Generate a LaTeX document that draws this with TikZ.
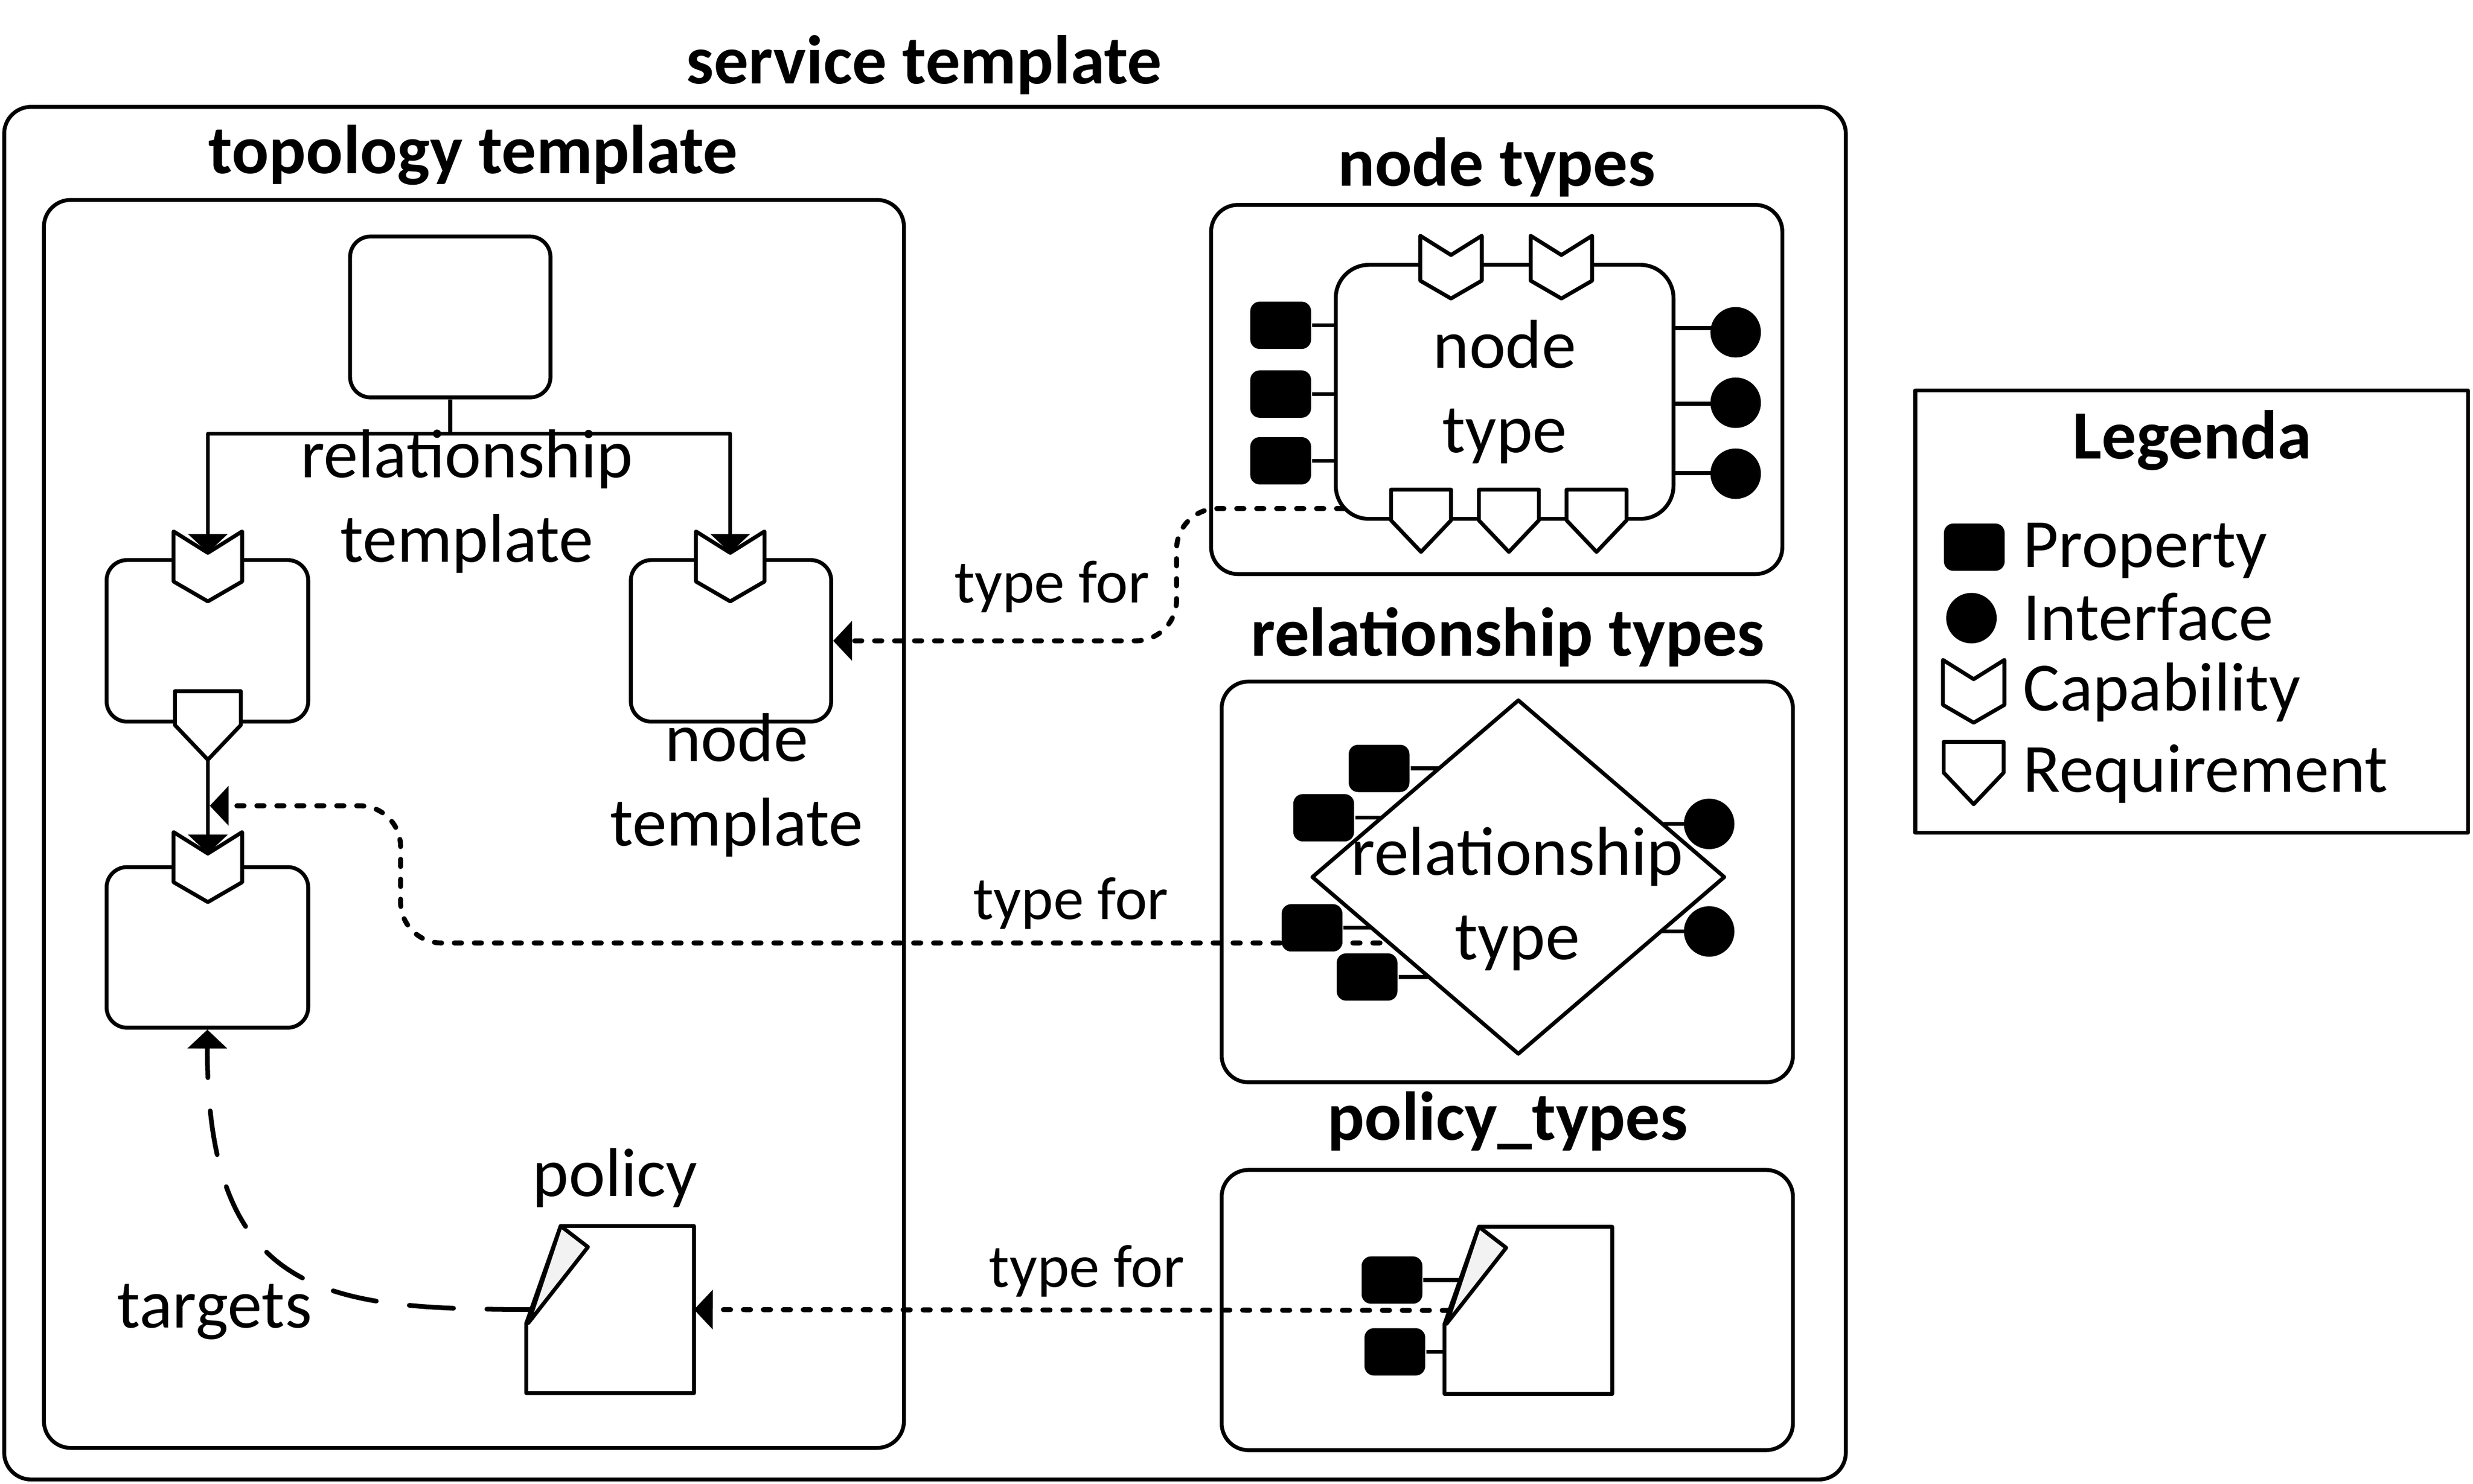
\documentclass[tikz,border=0pt]{standalone}
\usepackage{fontspec}
\setmainfont{Carlito}
\usetikzlibrary{shapes.geometric,arrows.meta,backgrounds}
\tikzset{
  >={Triangle[length=3.4pt,width=7pt]},
  lined/.style={line width=.7pt,line join=round},
  roundbox/.style={draw,lined,rounded corners=.13cm,inner sep=0pt},
  bigbox/.style={draw,lined,rounded corners=.17cm,inner sep=0pt},
  propbox/.style={fill=black,rounded corners=1.7pt,minimum width=.385cm,minimum height=.3cm,inner sep=0pt},
  ifacedot/.style={circle,fill=black,minimum size=.32cm,inner sep=0pt},
  txt/.style={font=\fontsize{12.45}{15.2}\selectfont,inner sep=0pt,align=center},
  typefor/.style={font=\fontsize{11}{13}\selectfont,inner sep=0pt},
  title/.style={font=\fontsize{12.45}{15}\selectfont\bfseries,inner sep=0pt,anchor=base},
  conn/.style={lined,->},
  typeline/.style={line width=.9pt,line cap=round,dash pattern=on 1.3pt off 2.3pt,rounded corners=.26cm,->},
  targetline/.style={line width=.85pt,line cap=round,dash pattern=on 8pt off 6pt,->},
  capability/.pic={
    \draw[lined,fill=white] (-19.5,-20) -- (0,-7.8) -- (19.5,-20) -- (19.5,8.5) -- (0,19.8) -- (-19.5,8.5) -- cycle;
    \coordinate (-notch) at (0,-7.8);
  },
  requirement/.pic={
    \draw[lined,fill=white] (-19,-19.5) -- (19,-19.5) -- (19,0) -- (0,20) -- (-19,0) -- cycle;
    \coordinate (-tip) at (0,20);
  },
  policyshape/.pic={
    \draw[lined,fill=white] (-53.3,8.7) -- (-31.5,-53) -- (53,-53) -- (53,53) -- (-53.3,53) -- cycle;
    \draw[lined,fill=black!5] (-31.5,-53) -- (-14.2,-39.7) -- (-52,8.5) -- cycle;
    \coordinate (-east) at (53,0);
    \coordinate (-fold) at (-50.2,0);
    \coordinate (-mid) at (0,0);
  }
}
\begin{document}
\begin{tikzpicture}[x=.01cm,y=-.01cm]
\useasboundingbox (0,0) rectangle (1568,941);
% outer frames
\node[title] (servicetitle) at (586,53) {service template};
\node[bigbox,minimum width=11.67cm,minimum height=8.7cm] (servicebox) at (586.5,503) {};
\node[title] (topologytitle) at (300,110) {topology template};
\node[bigbox,minimum width=5.45cm,minimum height=7.91cm] (topologybox) at (300.5,522.5) {};
\node[title] (nodetypestitle) at (949,118) {node types};
\node[bigbox,minimum width=3.62cm,minimum height=2.34cm] (nodetypesbox) at (949,247) {};
\node[title] (reltypestitle) at (956,416) {relationship types};
\node[bigbox,minimum width=3.62cm,minimum height=2.54cm] (reltypesbox) at (955.7,559.3) {};
\node[title] (policytypestitle) at (956,723) {policy\_types};
\node[bigbox,minimum width=3.62cm,minimum height=1.776cm] (policytypesbox) at (955.7,830.8) {};
% topology template
\node[roundbox,minimum width=1.27cm,minimum height=1.02cm] (relsource) at (285.5,201) {};
\node[roundbox,minimum width=1.278cm,minimum height=1.024cm] (sourcebox) at (131.5,406.4) {};
\node[roundbox,minimum width=1.27cm,minimum height=1.024cm] (targetbox) at (463.5,406.4) {};
\node[roundbox,minimum width=1.278cm,minimum height=1.018cm] (lowerbox) at (131.5,600.8) {};
\pic[scale=1.115] (capa) at (131.8,359.3) {capability};
\pic[scale=1.115] (capb) at (463,359.3) {capability};
\pic[scale=1.115] (capc) at (131.8,550) {capability};
\pic[scale=1.1] (reqa) at (131.8,459.8) {requirement};
\coordinate (relfork) at (285.5,275);
\draw[lined] (relsource.south) -- (relfork);
\draw[conn] (relfork) -| (capa-notch);
\draw[conn] (relfork) -| (capb-notch);
\draw[conn] (reqa-tip) -- (capc-notch);
\node[txt] (reltemplate) at (296,318) {relationship\\template};
\node[txt] (nodetemplate) at (467,498) {node\\template};
\pic (policya) at (387,830.5) {policyshape};
\node[txt] (policytext) at (390,747) {policy};
\node[txt] (targetstext) at (136,832) {targets};
\draw[targetline] (policya-fold) .. controls (210,830) and (131,825) .. (lowerbox.south);
% node types
\node[roundbox,rounded corners=.21cm,minimum width=2.14cm,minimum height=1.61cm,txt] (nodetype) at (954,248.5) {node\\type};
\foreach \n/\x in {1/920,2/990} \pic (nodecap\n) at (\x,169.5) {capability};
\foreach \n/\x in {1/901,2/956.7,3/1012.3} \pic (nodereq\n) at (\x,330) {requirement};
\foreach \n/\y in {1/206.3,2/249.9,3/292.2} {
  \node[propbox] (nodeprop\n) at (812,\y) {};
  \draw[lined] (nodeprop\n.east) -- (nodeprop\n.east -| nodetype.west);
}
\foreach \n/\y/\z in {1/210.7/208,2/255.4/256,3/300.4/300} {
  \node[ifacedot] (nodeiface\n) at (1100.5,\y) {};
  \draw[lined] (1061,\z) -- (nodeiface\n.center |- 0,\z);
}
% relationship types
\node[diamond,draw,lined,fill=white,inner sep=0pt,aspect=1.164,minimum width=2.62cm,minimum height=2.25cm] (reltype) at (962.7,556.2) {};
\node[txt] (reltypetext) at (962,570) {relationship\\type};
\foreach \n/\x/\y in {1/874.4/487.3,2/839.3/518.6,3/831.9/588.4,4/866.8/619.6} {
  \node[propbox] (relprop\n) at (\x,\y) {};
  \begin{scope}[on background layer]
    \draw[lined] (relprop\n.east) -- (relprop\n.east -| reltype.center);
  \end{scope}
}
\foreach \n/\y in {1/522.5,2/590.7} {
  \node[ifacedot] (reliface\n) at (1083.7,\y) {};
  \begin{scope}[on background layer]
    \draw[lined] (reliface\n.center) -- (reliface\n.center -| reltype.center);
  \end{scope}
}
% policy types
\pic (policyb) at (969.2,831) {policyshape};
\foreach \n/\x/\y in {1/882.6/811.8,2/884.4/857.3} {
  \node[propbox] (polprop\n) at (\x,\y) {};
  \begin{scope}[on background layer]
    \draw[lined] (polprop\n.east) -- (polprop\n.east -| policyb-mid);
  \end{scope}
}
% type for lines
\coordinate (nodeport) at (852,322.5);
\coordinate (nodebend) at (746,322.5);
\draw[typeline] (nodeport) -- (nodebend) -- (nodebend |- targetbox.east) -- (targetbox.east);
\coordinate (relport) at (875,598);
\coordinate (relbend) at (254,598);
\coordinate (relend) at (133,511);
\draw[typeline] (relport) -- (relbend) -- (relbend |- relend) -- (relend);
\draw[typeline] (policyb-fold) -- (policya-east);
\node[typefor] (typefora) at (667,372) {type for};
\node[typefor] (typeforb) at (679,573) {type for};
\node[typefor] (typeforc) at (689,806) {type for};
% legend
\node[draw,lined,inner sep=0pt,minimum width=3.504cm,minimum height=2.803cm] (legendbox) at (1389.6,387.8) {};
\node[title] (legendtitle) at (1390,291) {Legenda};
\node[propbox,rounded corners=1.7pt] (legendprop) at (1251.8,347) {};
\node[ifacedot] (legendiface) at (1250,392) {};
\pic (legendcap) at (1251.4,438.5) {capability};
\pic (legendreq) at (1251.4,490) {requirement};
\node[txt,anchor=base west] (propertytext) at (1282,359.6) {Property};
\node[txt,anchor=base west] (interfacetext) at (1282,406) {Interface};
\node[txt,anchor=base west] (capabilitytext) at (1282,450.7) {Capability};
\node[txt,anchor=base west] (requirementtext) at (1282,502.4) {Requirement};
\end{tikzpicture}
\end{document}
